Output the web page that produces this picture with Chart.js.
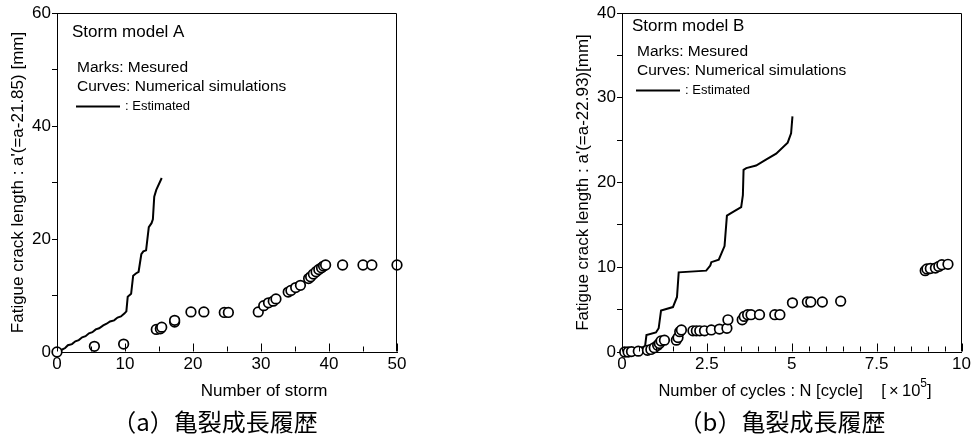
<!DOCTYPE html>
<html>
<head>
<meta charset="utf-8">
<script src="https://cdn.jsdelivr.net/npm/chart.js@4.4.1/dist/chart.umd.min.js"></script>
<style>
html, body { margin: 0; background: #fff; }
body { width: 973px; height: 439px; position: relative; overflow: hidden; }
canvas { position: absolute; top: 0; }
#chartA { left: 0; }
#chartB { left: 480px; }
.cap { position: absolute; top: 405px; font-family: "Noto Sans CJK JP", sans-serif; font-size: 24px;
       line-height: 32px; color: #000; transform: translateX(-50%); white-space: nowrap; }
</style>
</head>
<body>
<canvas id="chartA" width="480" height="405"></canvas>
<canvas id="chartB" width="493" height="405"></canvas>
<div class="cap" style="left:215px">（a）亀裂成長履歴</div>
<div class="cap" style="left:782px">（b）亀裂成長履歴</div>
<script>
// ---- Storm model A : measured marks ----
const stormA = [0, 5.5, 9.8, 14.6, 15.2, 15.4, 17.3, 17.3, 19.7, 21.6, 24.6, 25.2, 29.6, 30.4, 31.1, 31.8, 32.2,
  34.0, 34.4, 35.1, 35.8, 37.0, 37.3, 37.7, 38.1, 38.5, 38.9, 39.2, 39.5, 42.0, 45.0, 46.3, 50];
const crackA = [0, 1.0, 1.4, 4.0, 4.1, 4.4, 5.3, 5.6, 7.1, 7.1, 7.0, 7.0, 7.1, 8.2, 8.7, 9.0, 9.4,
  10.6, 10.9, 11.4, 11.8, 13.0, 13.3, 13.8, 14.2, 14.6, 14.9, 15.2, 15.4, 15.4, 15.4, 15.4, 15.4];
// estimated curve A
const estStormA = [0, 0.7, 1.2, 1.6, 2.2, 2.7, 3.2, 3.7, 4.2, 4.7, 5.2, 5.7, 6.2, 6.8, 7.3, 7.8, 8.4, 8.9, 9.4,
  9.9, 10.2, 10.4, 10.9, 11.2, 11.6, 12.0, 12.4, 12.7, 13.1, 13.5, 13.9, 14.1, 14.3, 14.6, 15.4];
const estCrackA = [0, 0.4, 0.7, 1.2, 1.4, 1.9, 2.1, 2.6, 2.8, 3.3, 3.5, 4.0, 4.2, 4.7, 5.0, 5.4, 5.6, 6.1, 6.3,
  6.8, 7.2, 9.8, 10.3, 13.5, 13.9, 14.2, 17.3, 17.8, 18.0, 22.1, 22.8, 23.5, 27.5, 28.7, 30.8];
const xTicksA = [0, 5, 10, 15, 20, 25, 30, 35, 40, 45, 50];
const xLabelsA = [0, 10, 20, 30, 40, 50];
const yTicksA = [0, 10, 20, 30, 40, 50, 60];
const yLabelsA = [0, 20, 40, 60];

// ---- Storm model B : measured marks (cycles x10^5) ----
const cyclesB = [0.08, 0.18, 0.28, 0.48, 0.75, 0.85, 0.95, 1.05, 1.1, 1.15, 1.25, 1.6, 1.65, 1.7, 1.75,
  2.09, 2.19, 2.29, 2.43, 2.63, 2.87, 3.09, 3.12, 3.54, 3.6, 3.7, 3.8, 4.05, 4.5, 4.65,
  5.02, 5.46, 5.56, 5.9, 6.44, 8.93, 8.98, 9.08, 9.23, 9.33, 9.42, 9.6];
const crackB = [0, 0, 0.05, 0.1, 0.2, 0.3, 0.5, 0.8, 1.0, 1.3, 1.4, 1.4, 1.7, 2.4, 2.6,
  2.5, 2.5, 2.5, 2.5, 2.6, 2.7, 2.8, 3.8, 3.8, 4.2, 4.4, 4.4, 4.4, 4.4, 4.4,
  5.8, 5.9, 5.9, 5.9, 6.0, 9.6, 9.8, 9.85, 9.9, 10.1, 10.3, 10.35];
// estimated curve B
const estCyclesB = [0, 0.2, 0.4, 0.62, 0.68, 0.72, 1.0, 1.08, 1.15, 1.5, 1.62, 1.67, 2.48, 2.6, 2.63, 2.85,
  3.02, 3.09, 3.26, 3.51, 3.56, 3.58, 3.66, 3.95, 4.24, 4.54, 4.88, 4.98, 5.02];
const estCrackB = [0, 0.2, 0.4, 0.6, 0.7, 2.0, 2.3, 2.8, 4.9, 5.3, 6.5, 9.4, 9.6, 10.2, 10.6, 10.9,
  12.5, 16.1, 16.5, 17.1, 18.5, 21.5, 21.7, 22.0, 22.7, 23.4, 24.7, 25.8, 27.8];
const xTicksB = [0, 0.5, 1, 1.5, 2, 2.5, 3, 3.5, 4, 4.5, 5, 5.5, 6, 6.5, 7, 7.5, 8, 8.5, 9, 9.5, 10];
const xLabelsB = [0, 2.5, 5, 7.5, 10];
const yTicksB = [0, 5, 10, 15, 20, 25, 30, 35, 40];
const yLabelsB = [0, 10, 20, 30, 40];

const FONT = '"Liberation Sans", Arial, sans-serif';
const pts = (xs, ys) => xs.map((x, i) => ({ x: x, y: ys[i] }));

// frame, inward x ticks, notes and x-axis title
const decor = {
  id: 'decor',
  afterDraw(chart, args, o) {
    const { ctx, chartArea: a, scales } = chart;
    const L = Math.round(a.left) + 0.5, R = Math.round(a.right) - 0.5;
    const T = Math.round(a.top) + 0.5, B = Math.round(a.bottom) - 0.5;
    ctx.save();
    ctx.strokeStyle = '#000';
    ctx.lineWidth = 1;
    ctx.beginPath();
    ctx.moveTo(L, T); ctx.lineTo(R, T); ctx.lineTo(R, B);
    scales.x.ticks.forEach(t => {
      const px = Math.round(scales.x.getPixelForValue(t.value)) + 0.5;
      const q = t.value / o.major;
      const len = Math.abs(q - Math.round(q)) < 1e-6 ? 8 : 5;
      ctx.moveTo(px, B); ctx.lineTo(px, B - len);
    });
    ctx.stroke();

    ctx.fillStyle = '#000';
    ctx.textAlign = 'left';
    ctx.textBaseline = 'middle';
    const x0 = a.left + o.dx, y0 = a.top + o.dy;
    ctx.font = '17px ' + FONT;
    ctx.fillText(o.model, x0, y0);
    ctx.font = '15.5px ' + FONT;
    ctx.fillText('Marks: Mesured', x0 + 5, y0 + o.gap1);
    ctx.fillText('Curves: Numerical simulations', x0 + 5, y0 + o.gap1 + 19);
    const ly = Math.round(y0 + o.gap1 + 38) + 0.5;
    ctx.lineWidth = 2;
    ctx.beginPath();
    ctx.moveTo(x0 + 4, ly); ctx.lineTo(x0 + 48, ly);
    ctx.stroke();
    ctx.font = '13px ' + FONT;
    ctx.fillText(': Estimated', x0 + 53, ly);

    // x-axis title (with optional superscript)
    ctx.font = o.titleSize + 'px ' + FONT;
    const supFont = Math.round(o.titleSize * 0.7) + 'px ' + FONT;
    let w = ctx.measureText(o.xTitle[0] + o.xTitle[2]).width;
    if (o.xTitle[1]) { ctx.font = supFont; w += ctx.measureText(o.xTitle[1]).width; }
    let cx = o.titleX - w / 2;
    ctx.font = o.titleSize + 'px ' + FONT;
    ctx.fillText(o.xTitle[0], cx, o.titleY);
    cx += ctx.measureText(o.xTitle[0]).width;
    if (o.xTitle[1]) {
      ctx.font = supFont;
      ctx.fillText(o.xTitle[1], cx, o.titleY - 7);
      cx += ctx.measureText(o.xTitle[1]).width;
      ctx.font = o.titleSize + 'px ' + FONT;
      ctx.fillText(o.xTitle[2], cx, o.titleY);
    }
    ctx.restore();
  }
};

function makeChart(id, s) {
  return new Chart(document.getElementById(id), {
    type: 'scatter',
    data: {
      datasets: [
        {
          data: pts(s.mx, s.my),
          pointStyle: 'circle',
          pointRadius: 4.8,
          pointBorderWidth: 1.7,
          pointBackgroundColor: '#fff',
          pointBorderColor: '#000',
          clip: false
        },
        {
          data: pts(s.cx, s.cy),
          showLine: true,
          borderColor: '#000',
          borderWidth: 2,
          pointRadius: 0,
          tension: 0
        }
      ]
    },
    options: {
      responsive: false,
      animation: false,
      layout: { padding: s.pad },
      plugins: { legend: { display: false }, tooltip: { enabled: false }, decor: s.decor },
      scales: {
        x: {
          type: 'linear', min: s.xMin, max: s.xMax,
          afterBuildTicks: sc => { sc.ticks = s.xTicks.map(v => ({ value: v })); },
          afterFit: sc => { sc.height = 30; },
          grid: { display: false, drawTicks: false },
          border: { display: true, color: '#000', width: 1 },
          ticks: {
            autoSkip: false, maxRotation: 0, padding: 2, color: '#000',
            font: { family: FONT, size: 17 },
            callback: v => s.xLabels.includes(v) ? String(v) : ''
          }
        },
        y: {
          type: 'linear', min: 0, max: s.yMax,
          afterBuildTicks: sc => { sc.ticks = s.yTicks.map(v => ({ value: v })); },
          afterFit: sc => { sc.width = 57; },
          grid: { drawOnChartArea: false, drawTicks: true, tickLength: 5, color: '#000' },
          border: { display: true, color: '#000', width: 1 },
          ticks: {
            autoSkip: false, padding: 1, color: '#000',
            font: { family: FONT, size: 17 },
            callback: v => s.yLabels.includes(v) ? String(v) : ''
          },
          title: {
            display: true, text: s.yTitle, color: '#000',
            font: { family: FONT, size: 17 }, padding: { top: 8, bottom: 0 }
          }
        }
      }
    },
    plugins: [decor]
  });
}

makeChart('chartA', {
  mx: stormA, my: crackA, cx: estStormA, cy: estCrackA,
  xMin: 0, xMax: 50, yMax: 60,
  xTicks: xTicksA, xLabels: xLabelsA, yTicks: yTicksA, yLabels: yLabelsA,
  yTitle: "Fatigue crack length : a'(=a-21.85) [mm]",
  pad: { left: 0, right: 83, top: 13, bottom: 23 },
  decor: { major: 10, model: 'Storm model A', dx: 15, dy: 19, gap1: 36,
           xTitle: ['Number of storm', '', ''], titleSize: 17, titleX: 264, titleY: 391 }
});

makeChart('chartB', {
  mx: cyclesB, my: crackB, cx: estCyclesB, cy: estCrackB,
  xMin: 0, xMax: 10, yMax: 40,
  xTicks: xTicksB, xLabels: xLabelsB, yTicks: yTicksB, yLabels: yLabelsB,
  yTitle: "Fatigue crack length : a'(=a-22.93)[mm]",
  pad: { left: 85, right: 10, top: 13, bottom: 23 },
  decor: { major: 2.5, model: 'Storm model B', dx: 10, dy: 13, gap1: 26,
           xTitle: ['Number of cycles : N [cycle]    [\u2009\u00d7\u200910', '5', ']'], titleSize: 16.5, titleX: 315, titleY: 391 }
});
</script>
</body>
</html>
